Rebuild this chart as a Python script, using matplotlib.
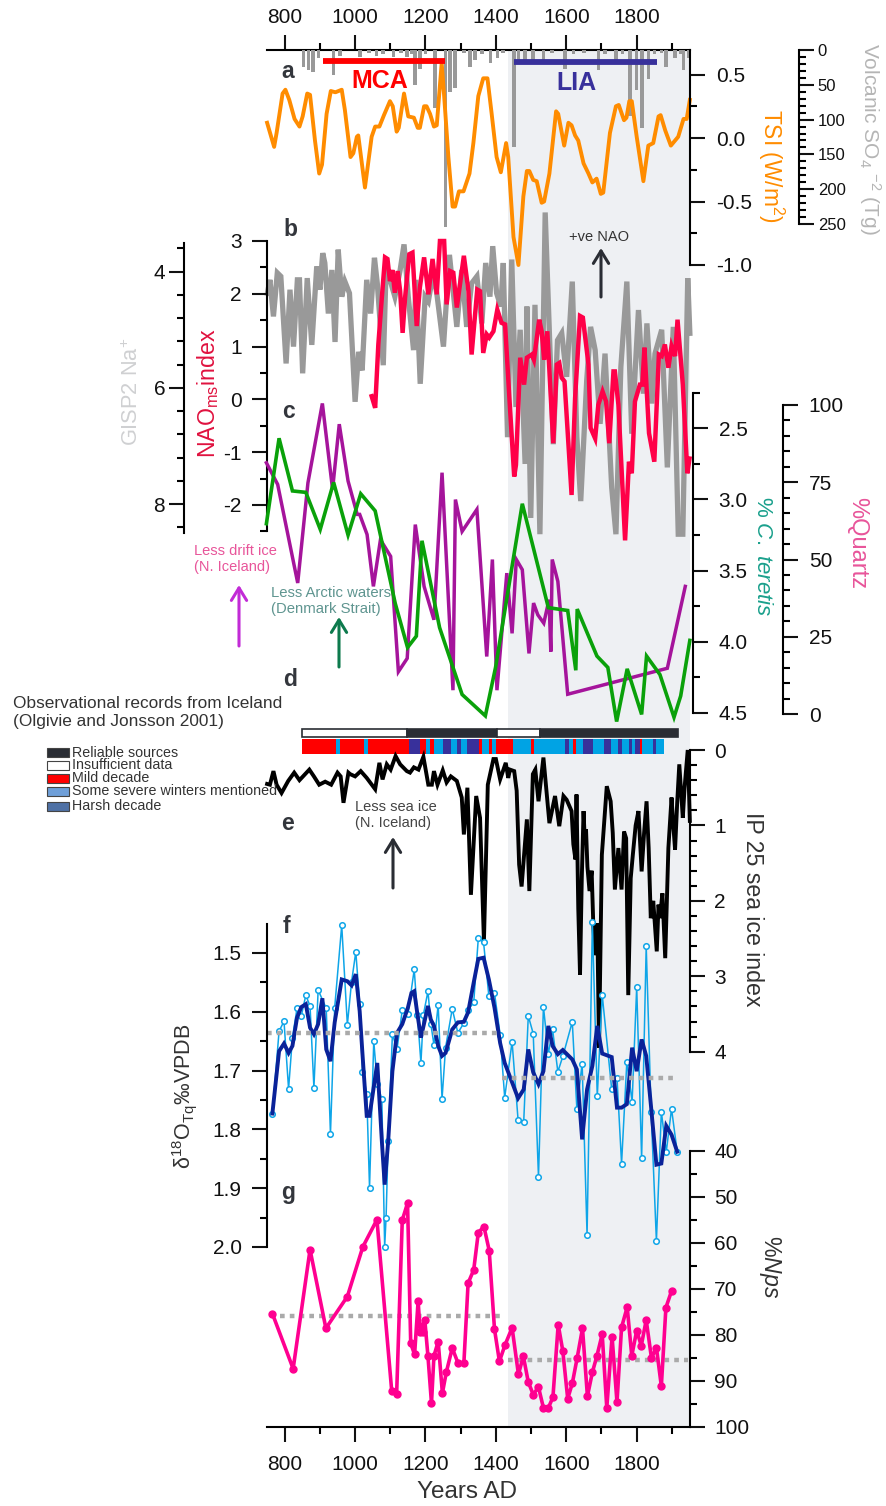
import numpy as np
import matplotlib
matplotlib.use("Agg")
import matplotlib.pyplot as plt
from matplotlib.patches import Rectangle

plt.rcParams['font.family'] = ['Liberation Sans', 'DejaVu Sans']
plt.rcParams['mathtext.fontset'] = 'custom'
plt.rcParams['mathtext.rm'] = 'Liberation Sans'
plt.rcParams['mathtext.it'] = 'Liberation Sans:italic'
plt.rcParams['mathtext.bf'] = 'Liberation Sans:bold'
plt.rcParams['mathtext.default'] = 'regular'

# a - volcanic SO4 and TSI
volc_yr = [853, 867, 881, 896, 938, 957, 1014, 1040, 1061, 1080, 1109, 1130, 1147, 1160, 1170, 1184, 1200, 1227, 1257, 1270,
           1284, 1310, 1327, 1341, 1360, 1385, 1404, 1420, 1452, 1464, 1483, 1506, 1535, 1560, 1596, 1620, 1650, 1691, 1710,
           1741, 1760, 1781, 1800, 1815, 1833, 1850, 1870, 1883, 1909, 1925, 1933, 1947]
volc_tg = [24, 29, 31, 12, 36, 8, 10, 5, 8, 6, 10, 5, 10, 6, 50, 27, 6, 83, 254, 60,
           55, 5, 24, 14, 6, 19, 12, 5, 140, 15, 17, 15, 15, 5, 27, 6, 5, 29, 6,
           15, 6, 95, 57, 112, 41, 6, 5, 24, 12, 6, 29, 12]
tsi_yr = [750, 770, 777, 794, 802, 813, 828, 842, 851, 864, 872, 886, 898, 906, 919, 931, 944, 962, 971, 987, 995,
          1005, 1009, 1028, 1047, 1057, 1069, 1082, 1099, 1107, 1118, 1124, 1139, 1151, 1167, 1178, 1184, 1196, 1203,
          1213, 1224, 1232, 1246, 1253, 1265, 1277, 1284, 1295, 1308, 1325, 1336, 1350, 1364, 1376, 1388, 1402, 1414,
          1429, 1435, 1450, 1464, 1478, 1488, 1495, 1506, 1516, 1530, 1537, 1552, 1571, 1577, 1594, 1606, 1615, 1625,
          1634, 1649, 1663, 1674, 1686, 1698, 1705, 1724, 1741, 1749, 1764, 1771, 1779, 1786, 1800, 1819, 1833, 1847,
          1862, 1868, 1881, 1897, 1918, 1933, 1942, 1951]
tsi_val = [.12, -.07, .04, .35, .38, .30, .15, .09, .17, .35, .34, -.02, -.28, -.21, .19, .37, .36, .38, .22, -.15, -.12,
           .01, .02, -.39, .01, .09, .09, .18, .29, .25, .05, .08, .35, .17, .16, .08, .08, .25, .25,
           .19, .09, .10, .59, .33, -.15, -.54, -.54, -.42, -.42, -.28, -.04, .33, .47, .47, .19, -.15, -.27,
           -.04, -.15, -.78, -1.0, -.46, -.26, -.26, -.33, -.34, -.51, -.50, -.28, .21, .19, -.06, .12, .10, .02,
           -.02, -.20, -.28, -.35, -.32, -.44, -.43, .04, .25, .26, .14, .16, .29, .29, .01, -.34, -.06, -.04,
           .17, .18, .06, -.06, .01, .15, .15, .30]
mca_years = [908, 1255]
lia_years = [1452, 1857]

# b - GISP2 Na+ and NAOms
na_yr = [751, 758, 768, 779, 789, 804, 815, 825, 836, 842, 851, 864, 877, 891, 900, 908, 914, 924, 934, 943, 952, 962,
         971, 984, 1000, 1010, 1020, 1033, 1044, 1055, 1063, 1080, 1088, 1099, 1113, 1128, 1139, 1151, 1166, 1173, 1185,
         1199, 1208, 1222, 1232, 1251, 1268, 1289, 1303, 1317, 1331, 1346, 1360, 1371, 1383, 1391, 1402, 1414, 1421,
         1433, 1445, 1457, 1469, 1483, 1488, 1499, 1511, 1525, 1540, 1554, 1563, 1575, 1587, 1601, 1617, 1630, 1641,
         1658, 1669, 1682, 1696, 1710, 1729, 1741, 1755, 1772, 1786, 1805, 1819, 1829, 1843, 1852, 1871, 1887, 1904,
         1918, 1931, 1945, 1951]
na_val = [4.37, 4.14, 4.77, 4.02, 4.08, 5.58, 4.31, 5.29, 4.14, 4.14, 5.75, 4.11, 5.26, 3.91, 4.31, 3.68, 3.85, 4.72,
          3.97, 5.21, 3.62, 4.43, 4.17, 4.37, 6.24, 5.38, 5.70, 4.14, 4.72, 3.76, 4.20, 5.61, 3.97, 4.14, 4.43, 3.97,
          3.53, 4.43, 5.35, 4.14, 5.93, 4.43, 4.51, 4.02, 4.37, 5.29, 3.71, 4.95, 3.97, 4.95, 4.20, 4.08, 4.89, 3.85,
          4.43, 3.56, 4.37, 4.60, 3.85, 6.85, 3.79, 6.33, 5.00, 7.31, 4.60, 8.24, 4.57, 8.52, 2.98, 5.41, 6.97, 5.18,
          5.06, 5.81, 4.17, 6.85, 7.95, 5.87, 4.95, 5.35, 6.62, 5.41, 7.72, 8.52, 5.64, 4.17, 6.79, 4.66, 6.10, 4.89,
          6.27, 5.41, 5.00, 7.37, 4.95, 8.52, 8.52, 4.11, 5.06]
nao_yr = [1047, 1057, 1066, 1076, 1085, 1092, 1099, 1106, 1113, 1121, 1128, 1135, 1142, 1154, 1163, 1175, 1184, 1196,
          1208, 1220, 1232, 1241, 1253, 1260, 1270, 1279, 1289, 1309, 1322, 1331, 1347, 1355, 1364, 1374, 1381, 1393,
          1404, 1416, 1426, 1440, 1452, 1457, 1469, 1480, 1488, 1502, 1508, 1523, 1530, 1537, 1546, 1563, 1573, 1580,
          1587, 1595, 1615, 1625, 1639, 1647, 1663, 1669, 1682, 1691, 1703, 1713, 1722, 1734, 1738, 1748, 1767, 1778,
          1786, 1795, 1809, 1816, 1822, 1835, 1850, 1863, 1871, 1880, 1890, 1899, 1909, 1916, 1931, 1944, 1950]
nao_val = [.06, -.16, 1.04, 1.93, 2.69, 2.66, 2.24, 2.45, 2.02, 2.43, 2.05, 1.26, 1.93, 2.75, 2.78, 1.39, 2.12, 2.69,
           1.99, 2.66, 1.99, 3.0, 3.0, 1.80, 2.43, 2.40, 1.74, 2.72, 2.05, .85, 2.08, 2.05, .88, 1.23, 1.17, 1.29,
           1.70, 1.45, 1.42, -.16, -1.46, -1.24, .79, .28, .79, .85, .75, 1.51, 1.29, .75, 1.29, -.83, .66, .69,
           .41, .34, -1.81, .03, 1.58, 1.55, .66, -.54, -.74, -.10, .15, -.04, -.83, .53, .53, -.10, -2.67, -1.18,
           -1.40, -.04, .28, .28, .98, -.64, -1.18, .85, .82, 1.04, .60, 1.01, .82, 1.51, .28, -1.40, -1.12]

# c - quartz and C. teretis
quartz_yr = [748, 780, 837, 866, 907, 936, 955, 980, 1006, 1013, 1034, 1052, 1072, 1101, 1123, 1148, 1171, 1196, 1224,
             1247, 1278, 1285, 1304, 1346, 1374, 1390, 1403, 1431, 1446, 1458, 1475, 1494, 1507, 1519, 1536, 1551, 1556,
             1560, 1576, 1604, 1887, 1938]
quartz_val = [81.3, 74.3, 42.4, 74.8, 100.5, 72.7, 93.8, 75.4, 64.6, 64.6, 58.1, 41.3, 56.4, 51, 13.7, 18, 61.3, 41.3,
              30.5, 78.1, 7.7, 69.4, 59.1, 66.2, 18.6, 50, 7.7, 45.6, 26.1, 50, 46.7, 19.6, 35.9, 32.1, 29.4, 37, 20.2,
              50, 42.9, 6.4, 14.8, 41.3]
teretis_yr = [748, 784, 822, 860, 901, 939, 980, 1016, 1057, 1114, 1149, 1174, 1190, 1240, 1304, 1370, 1399, 1475, 1549,
              1604, 1627, 1631, 1687, 1718, 1743, 1773, 1814, 1828, 1866, 1906, 1925, 1951]
teretis_val = [3.17, 2.57, 2.94, 2.95, 3.21, 2.88, 3.25, 2.96, 3.08, 3.73, 4.04, 3.96, 3.29, 3.90, 4.37, 4.52, 4.18,
               3.03, 3.76, 3.78, 4.20, 3.77, 4.10, 4.18, 4.56, 4.19, 4.51, 4.10, 4.23, 4.53, 4.38, 3.99]

# d - observational records
source_edges = [848, 1148, 1402, 1525, 1916]
source_kind = ['insufficient', 'reliable', 'insufficient', 'reliable']
decade_edges = [849, 946, 957, 1025, 1037, 1153, 1184, 1202, 1213, 1224, 1250, 1273, 1290, 1301, 1318, 1353, 1361, 1381,
                1389, 1400, 1449, 1500, 1508, 1596, 1608, 1619, 1628, 1648, 1676, 1707, 1727, 1747, 1758, 1778, 1787,
                1795, 1808, 1815, 1846, 1855, 1878]
decade_kind = ['m', 's', 'm', 's', 'm', 'h', 'm', 's', 'm', 's', 'h', 's', 'h', 's', 'h', 'm', 's', 'm',
               's', 'm', 's', 'm', 's', 'h', 's', 'm', 's', 'h', 's', 'h', 's', 'h', 's', 'h', 's',
               'h', 'm', 's', 'h', 's']

# e - IP25
ip25_yr = [750, 758, 768, 777, 791, 810, 827, 842, 870, 883, 898, 915, 932, 950, 959, 967, 981, 986, 1000, 1016, 1033,
           1057, 1069, 1078, 1090, 1101, 1115, 1128, 1147, 1156, 1167, 1180, 1194, 1208, 1218, 1224, 1234, 1249, 1260,
           1272, 1289, 1303, 1309, 1319, 1329, 1344, 1355, 1366, 1377, 1393, 1400, 1412, 1428, 1435, 1440, 1452, 1459,
           1466, 1473, 1488, 1495, 1505, 1512, 1521, 1535, 1552, 1568, 1580, 1592, 1601, 1615, 1620, 1626, 1629, 1634,
           1639, 1644, 1649, 1653, 1656, 1660, 1666, 1672, 1677, 1682, 1688, 1693, 1701, 1715, 1726, 1732, 1738, 1748,
           1757, 1764, 1770, 1776, 1783, 1789, 1797, 1805, 1814, 1821, 1828, 1834, 1840, 1847, 1857, 1862, 1866, 1873,
           1881, 1890, 1899, 1904, 1909, 1915, 1921, 1931, 1936, 1945, 1951]
ip25_val = [.45, .46, .28, .46, .57, .41, .30, .40, .26, .35, .46, .42, .46, .30, .35, .70, .30, .32, .35, .28, .37,
            .52, .17, .39, .19, .26, .08, .19, .28, .30, .23, .26, .09, .46, .46, .28, .46, .27, .43,
            .35, .41, .63, 1.12, .50, 1.92, .61, .90, 2.54, .46, .12, .12, .39, .17, .37, .26, .28, .54,
            1.52, 1.81, .92, 1.87, .32, .26, .68, .10, .97, .61, 1.01, .61, .66, .81, 1.25, 1.45, .59, 2.1,
            2.98, 1.7, .81, 1.25, 1.05, 1.55, 1.87, 1.6, 2.36, 2.72, 2.3, 3.95, 1.39, .48, .68, 1.1, 1.85, 1.30,
            1.85, 1.08, 1.17, 3.25, 1.7, 1.39, 1.0, .81, 1.61, 1.1, .68, 1.3, 2.23, 2.0, 2.67, 2.05, 2.23, 1.9,
            2.76, 1.30, .63, 1.0, 1.32, .7, .19, .90, .5, 0, .94]

# f - d18O
d18o_yr = [765, 784, 798, 811, 822, 835, 847, 860, 872, 883, 895, 918, 930, 942, 962, 978, 990, 1002, 1013, 1021, 1033,
           1041, 1053, 1063, 1076, 1084, 1088, 1094, 1106, 1119, 1134, 1150, 1168, 1177, 1187, 1194, 1207, 1215, 1224,
           1236, 1247, 1257, 1276, 1292, 1309, 1321, 1337, 1350, 1365, 1380, 1396, 1412, 1425, 1446, 1463, 1479, 1492,
           1506, 1521, 1535, 1549, 1561, 1576, 1590, 1617, 1630, 1645, 1659, 1674, 1688, 1702, 1729, 1744, 1757, 1772,
           1787, 1800, 1814, 1827, 1841, 1856, 1870, 1884, 1899, 1915]
d18o_val = [1.773, 1.633, 1.616, 1.731, 1.644, 1.594, 1.607, 1.572, 1.590, 1.729, 1.563, 1.594, 1.808, 1.593, 1.453,
            1.622, 1.549, 1.498, 1.586, 1.702, 1.739, 1.899, 1.650, 1.722, 1.749, 2.0, 1.95, 1.820, 1.638, 1.664, 1.597,
            1.604, 1.528, 1.605, 1.687, 1.605, 1.565, 1.620, 1.656, 1.588, 1.748, 1.661, 1.595, 1.636, 1.619, 1.597,
            1.584, 1.475, 1.482, 1.573, 1.568, 1.639, 1.746, 1.651, 1.784, 1.787, 1.607, 1.637, 1.881, 1.591, 1.671,
            1.630, 1.702, 1.676, 1.617, 1.765, 1.688, 1.98, 1.448, 1.744, 1.571, 1.732, 1.712, 1.858, 1.685, 1.753,
            1.558, 1.849, 1.488, 1.770, 1.99, 1.770, 1.838, 1.765, 1.838]
smooth_yr = [765, 784, 798, 811, 822, 835, 847, 860, 872, 883, 895, 907, 918, 930, 942, 962, 978, 990, 1002, 1013, 1021,
             1033, 1041, 1063, 1076, 1084, 1094, 1106, 1119, 1134, 1150, 1160, 1168, 1177, 1187, 1207, 1215, 1224, 1236,
             1247, 1257, 1276, 1292, 1309, 1321, 1337, 1350, 1365, 1380, 1396, 1412, 1425, 1446, 1463, 1479, 1492, 1506,
             1521, 1535, 1549, 1561, 1576, 1590, 1617, 1630, 1645, 1659, 1674, 1688, 1702, 1729, 1744, 1757, 1772, 1787,
             1800, 1814, 1827, 1841, 1856, 1870, 1884, 1899, 1915]
smooth_val = [1.773, 1.667, 1.654, 1.670, 1.658, 1.610, 1.592, 1.587, 1.627, 1.638, 1.621, 1.577, 1.664, 1.684, 1.618,
              1.545, 1.548, 1.555, 1.536, 1.599, 1.672, 1.777, 1.777, 1.687, 1.820, 1.894, 1.820, 1.701, 1.636, 1.621,
              1.593, 1.568, 1.565, 1.604, 1.644, 1.590, 1.613, 1.624, 1.658, 1.675, 1.670, 1.630, 1.618, 1.617, 1.601,
              1.550, 1.510, 1.508, 1.545, 1.593, 1.653, 1.687, 1.720, 1.747, 1.732, 1.664, 1.703, 1.723, 1.701, 1.624,
              1.658, 1.672, 1.665, 1.681, 1.698, 1.817, 1.732, 1.692, 1.624, 1.671, 1.677, 1.763, 1.763, 1.757, 1.661,
              1.701, 1.647, 1.675, 1.763, 1.860, 1.858, 1.794, 1.809, 1.838]
d18o_mean_mca = ([750, 1412], [1.636, 1.636])
d18o_mean_lia = ([1416, 1904], [1.713, 1.713])

# g - %Nps
nps_yr = [765, 824, 872, 917, 978, 1022, 1062, 1104, 1118, 1134, 1149, 1158, 1169, 1179, 1185, 1191, 1194, 1198, 1207,
          1217, 1224, 1236, 1248, 1259, 1276, 1292, 1309, 1321, 1337, 1350, 1366, 1381, 1396, 1410, 1426, 1446, 1464,
          1478, 1492, 1506, 1521, 1535, 1549, 1562, 1577, 1590, 1604, 1617, 1631, 1646, 1660, 1674, 1687, 1702, 1715,
          1730, 1744, 1757, 1773, 1786, 1800, 1813, 1827, 1842, 1856, 1870, 1883, 1899]
nps_val = [75.4, 87.4, 61.5, 78.6, 71.7, 60.9, 55.0, 92.2, 92.9, 55.1, 51.4, 81.9, 84.3, 72.7, 79.4, 78.0, 79.4, 76.8,
           84.7, 94.9, 84.6, 81.5, 92.7, 88.2, 82.9, 86.1, 86.2, 68.8, 65.9, 57.8, 56.5, 61.7, 78.8, 85.8, 82.2, 78.5,
           88.6, 84.7, 90.3, 93.0, 91.4, 95.9, 95.9, 93.6, 77.8, 83.5, 93.9, 90.6, 85.0, 78.6, 93.4, 88.2, 84.6, 79.9,
           95.9, 80.4, 94.7, 78.4, 74.0, 84.6, 79.1, 82.4, 76.8, 85.1, 82.8, 91.2, 74.1, 70.5]
nps_mean_mca = ([787, 1412], [75.9, 75.9])
nps_mean_lia = ([1435, 1947], [85.5, 85.5])

W, H = 887, 1506
DARK = '#2a2d34'
XLIM = (800 - 284.7 / 0.352, 800 + (W - 284.7) / 0.352)

fig = plt.figure(figsize=(W / 100, H / 100), dpi=100)


def layer(y0, v0, y1, v1):
    # full-figure transparent axes, with v0 at pixel row y0 and v1 at pixel row y1
    ax = fig.add_axes([0, 0, 1, 1])
    ax.patch.set_visible(False)
    k = (v1 - v0) / (y1 - y0)
    ax.set_xlim(XLIM)
    ax.set_ylim(v0 + (H - y0) * k, v0 - y0 * k)
    for s in ax.spines.values():
        s.set_visible(False)
    ax.set_xticks([])
    ax.set_yticks([])
    return ax


def scale(ax, side, x, bounds, major, labels, minor, pad=8, fs=15):
    # draw one free-standing y axis at pixel column x
    sp = ax.spines[side]
    sp.set_visible(True)
    sp.set_position(('axes', x / W))
    sp.set_bounds(*bounds)
    sp.set_linewidth(1.5)
    if side == 'right':
        ax.yaxis.tick_right()
    ax.set_yticks(major)
    ax.set_yticklabels(labels)
    ax.set_yticks(minor, minor=True)
    ax.tick_params(axis='y', which='major', length=10.5, width=1.5, pad=pad, labelsize=fs, colors='#111111')
    ax.tick_params(axis='y', which='minor', length=5.3, width=1.5)


# shading and year axes
base = layer(0, 1, H, 0)
base.axvspan(1434, 1951, ymin=1 - 1427 / H, ymax=1 - 50 / H, color='#eef0f3', lw=0)
for side, row, pad in (('top', 50, 6), ('bottom', 1427, 10)):
    yax = layer(0, 1, H, 0)
    sp = yax.spines[side]
    sp.set_visible(True)
    sp.set_position(('axes', 1 - row / H))
    sp.set_bounds(750, 1951)
    sp.set_linewidth(1.5)
    yax.xaxis.set_ticks_position(side)
    yax.set_xticks([800, 1000, 1200, 1400, 1600, 1800])
    yax.set_xticks([900, 1100, 1300, 1500, 1700, 1900], minor=True)
    yax.tick_params(axis='x', which='major', length=10.5, width=1.5, pad=pad, labelsize=15, colors='#111111')
    yax.tick_params(axis='x', which='minor', length=5.3, width=1.5)

# a
ax = layer(50, 0, 224, 250)
ax.bar(volc_yr, volc_tg, width=10, color='#999999', lw=0)
scale(ax, 'right', 799, (0, 250), [0, 50, 100, 150, 200, 250], ['0', '50', '100', '150', '200', '250'],
      [v for v in range(10, 250, 10) if v % 50], pad=3, fs=12)

ax = layer(138, 0.0, 265, -1.0)
ax.plot(tsi_yr, tsi_val, color='#ff8c00', lw=2.8)
scale(ax, 'right', 690, (-1.0, 0.69), [0.5, 0.0, -0.5, -1.0], ['0.5', '0.0', '-0.5', '-1.0'], [0.25, -0.25, -0.75])
ax.plot(mca_years, [0.61, 0.61], color='#ff0000', lw=4.2, solid_capstyle='butt')
ax.plot(lia_years, [0.60, 0.60], color='#38309b', lw=4.2, solid_capstyle='butt')

# b
ax = layer(271.7, 4, 504, 8)
ax.plot(na_yr, na_val, color='#999999', lw=3.8, solid_joinstyle='miter')
scale(ax, 'left', 184, (3.5, 8.5), [4, 6, 8], ['4', '6', '8'],
      [3.6, 4.4, 4.8, 5.2, 5.6, 6.4, 6.8, 7.2, 7.6, 8.4], pad=3)

ax = layer(241, 3, 505, -2)
ax.plot(nao_yr, nao_val, color='#ff0048', lw=3.2, solid_joinstyle='miter')
scale(ax, 'left', 267.3, (-2.5, 3), [3, 2, 1, 0, -1, -2], ['3', '2', '1', '0', '-1', '-2'],
      [2.5, 1.5, 0.5, -0.5, -1.5, -2.5])

# c
ax = layer(405, 100, 714, 0)
ax.plot(quartz_yr, quartz_val, color='#a5149b', lw=2.5, solid_joinstyle='miter')
scale(ax, 'right', 783, (0, 100), [100, 75, 50, 25, 0], ['100', '75', '50', '25', '0'],
      [v for v in range(5, 100, 5) if v % 25])

ax = layer(428.3, 2.5, 713, 4.5)
ax.plot(teretis_yr, teretis_val, color='#0aa10a', lw=2.6, solid_joinstyle='miter')
scale(ax, 'right', 693, (2.25, 4.5), [2.5, 3.0, 3.5, 4.0, 4.5], ['2.5', '3.0', '3.5', '4.0', '4.5'],
      [2.25, 2.75, 3.25, 3.75, 4.25])

# d
ax = layer(737, 0, 729, 1)
ax.bar(source_edges[:-1], 1, width=np.diff(source_edges), align='edge',
       color=['white' if k == 'insufficient' else DARK for k in source_kind], edgecolor=DARK, lw=1.2)
kind_colors = {'m': '#ff0000', 's': '#00a3e4', 'h': '#38309b'}
ax = layer(754, 0, 739, 1)
ax.bar(decade_edges[:-1], 1, width=np.diff(decade_edges), align='edge',
       color=[kind_colors[k] for k in decade_kind], lw=0)

# e
ax = layer(750, 0, 1051.7, 4)
ax.plot(ip25_yr, ip25_val, color='black', lw=2.8, solid_joinstyle='miter')
scale(ax, 'right', 690, (0, 4), [0, 1, 2, 3, 4], ['0', '1', '2', '3', '4'],
      [v / 5 for v in range(1, 20) if v % 5], pad=7)

# f
ax = layer(953, 1.5, 1247, 2.0)
ax.plot(d18o_yr, d18o_val, color='#0ea5e8', lw=1.1, marker='o', ms=4, mfc='white', mec='#0ea5e8', mew=1.1)
ax.plot(smooth_yr, smooth_val, color='#0a2299', lw=2.8, solid_joinstyle='miter')
ax.plot(*d18o_mean_mca, color='#aaaaaa', lw=3.2, ls=(0, (1.05, 1.15)))
ax.plot(*d18o_mean_lia, color='#aaaaaa', lw=3.2, ls=(0, (1.05, 1.15)))
scale(ax, 'left', 267.3, (1.45, 2.0), [1.5, 1.6, 1.7, 1.8, 1.9, 2.0], ['1.5', '1.6', '1.7', '1.8', '1.9', '2.0'],
      [1.55, 1.65, 1.75, 1.85, 1.95])

# g
ax = layer(1150.7, 40, 1426.7, 100)
ax.plot(*nps_mean_mca, color='#aaaaaa', lw=3.2, ls=(0, (1.05, 1.15)))
ax.plot(*nps_mean_lia, color='#aaaaaa', lw=3.2, ls=(0, (1.05, 1.15)))
ax.plot(nps_yr, nps_val, color='#ff0090', lw=2.6, marker='o', ms=5)
scale(ax, 'right', 690, (40, 100), list(range(40, 101, 10)), [str(v) for v in range(40, 101, 10)],
      list(range(45, 100, 10)), pad=7)

# text and arrows in pixel coordinates
top = fig.add_axes([0, 0, 1, 1])
top.patch.set_visible(False)
top.set_xlim(0, W)
top.set_ylim(H, 0)
top.axis('off')

for letter, x, y in [('a', 288, 71), ('b', 290, 229), ('c', 289, 411), ('d', 290, 679),
                     ('e', 288, 823), ('f', 286, 926), ('g', 288, 1193)]:
    top.text(x, y, letter, fontsize=16.5, fontweight='bold', color='#33363c', ha='center', va='center')
top.text(380, 81, 'MCA', fontsize=18, fontweight='bold', color='#ff0000', ha='center', va='center')
top.text(576, 83, 'LIA', fontsize=18, fontweight='bold', color='#38309b', ha='center', va='center')

rot = [
    (870, 139, 'Volcanic SO$_{4}$ $^{-2}$ (Tg)', 270, '#b5b5b5', 15),
    (771, 166, 'TSI (W/m$^{2}$)', 270, '#ff8c00', 16.4),
    (132, 392, 'GISP2 Na$^{+}$', 90, '#cfd0d2', 15.7),
    (208, 393, 'NAO$_{ms}$index', 90, '#e0123f', 16.7),
    (763, 556, '% $\\mathit{C.\\ teretis}$', 270, '#1aa08c', 16),
    (857, 543, '%Quartz', 270, '#e8559a', 17),
    (753, 909, 'IP 25 sea ice index', 270, '#333333', 16.7),
    (770, 1267, '%$\\mathit{Nps}$', 270, '#333333', 16.7),
    (185, 1096, 'δ$^{18}$O$_{Tq}$‰VPDB', 90, '#333333', 15.5),
]
for x, y, s, r, c, fs in rot:
    top.text(x, y, s, rotation=r, color=c, fontsize=fs, ha='center', va='center')

top.text(467, 1492, 'Years AD', fontsize=17.5, color='#333333', ha='center', va='center')
top.text(599, 237, '+ve NAO', fontsize=10.5, color='#333333', ha='center', va='center')
top.text(194, 559, 'Less drift ice\n(N. Iceland)', fontsize=10.5, color='#e8559a', va='center', linespacing=1.2)
top.text(271, 601, 'Less Arctic waters\n(Denmark Strait)', fontsize=10.7, color='#5f9590', va='center', linespacing=1.2)
top.text(355, 815, 'Less sea ice\n(N. Iceland)', fontsize=10.5, color='#444444', va='center', linespacing=1.2)
top.text(13, 712.5, 'Observational records from Iceland\n(Olgivie and Jonsson 2001)', fontsize=12.4, color='#333333',
         va='center', linespacing=1.25)

for x, y0, y1, c in [(601, 297, 248, DARK), (239, 646, 585, '#c22bd6'), (339, 667, 617, '#0d7a4d'),
                     (393, 888, 837, DARK)]:
    top.annotate('', xy=(x, y1), xytext=(x, y0),
                 arrowprops=dict(arrowstyle='->,head_length=0.9,head_width=0.55', color=c, lw=2.2, shrinkA=0, shrinkB=0))

legend_rows = [(752.5, DARK, 'Reliable sources'), (765, 'white', 'Insufficient data'), (778, '#ff0000', 'Mild decade'),
               (791, '#6f9fd8', 'Some severe winters mentioned'), (806, '#4f71a5', 'Harsh decade')]
for y, c, s in legend_rows:
    top.add_patch(Rectangle((47, y - 4.5), 22, 9, facecolor=c, edgecolor='#444444', lw=0.8))
    top.text(72.5, y, s, fontsize=10.3, color='#333333', va='center')

fig.savefig('out.png', dpi=100)
